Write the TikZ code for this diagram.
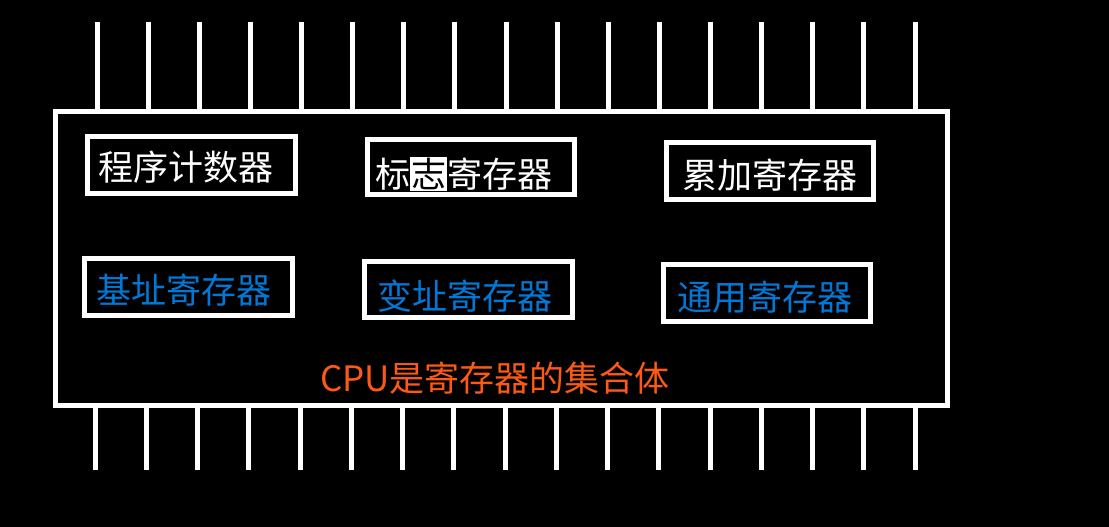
\documentclass[tikz,border=0pt]{standalone}
\usepackage{fontspec}
\usepackage{xcolor}
\newfontfamily\cjk{Noto Sans CJK SC}
\definecolor{regblue}{RGB}{0,120,215}
\definecolor{cpuorange}{RGB}{252,90,20}
\begin{document}
\begin{tikzpicture}[x=1pt,y=-1pt,
  regbox/.style={draw=white,line width=5pt,minimum width=#1,minimum height=57pt,inner sep=0pt,outer sep=0pt},
  regbox/.default=208pt,
  regtext/.style={inner sep=0pt,font=\cjk\fontsize{35}{40}\selectfont,text=white},
  bluetext/.style={regtext,text=regblue},
  pin/.style={draw=white,line width=5pt}]
\fill[black] (0,0) rectangle (1109,527);
\useasboundingbox (0,0) rectangle (1109,527);
% pins
\foreach \i in {0,...,16}{
  \draw[pin] ({97+51.125*\i},22) -- ({97+51.125*\i},111);
  \draw[pin] ({95+51.25*\i},405.5) -- ({95+51.25*\i},470);
}
% chip body
\node[draw=white,line width=5pt,minimum width=892pt,minimum height=294.5pt,inner sep=0pt] (chip) at (501.5,258.25) {};
% register boxes
\node[regbox] (b1) at (191.5,165) {};
\node[regtext] (t1) at (186,167) {程序计数器};
\node[regbox=207pt,minimum height=55pt] (b2) at (471,167) {};
\node[regtext] (t2) at (463.5,174) {标{\setlength\fboxsep{1pt}\colorbox{white}{\textcolor{black}{志}}}寄存器};
\node[regbox=207pt] (b3) at (770,171) {};
\node[regtext] (t3) at (770,175) {累加寄存器};
\node[regbox] (b4) at (188.5,287) {};
\node[bluetext] (t4) at (183.5,290) {基址寄存器};
\node[regbox,minimum height=56pt] (b5) at (468.5,289.5) {};
\node[bluetext] (t5) at (465,296) {变址寄存器};
\node[regbox=207pt] (b6) at (767,293) {};
\node[bluetext] (t6) at (764.5,297) {通用寄存器};
\node[regtext,text=cpuorange] (cpu) at (495,378) {CPU是寄存器的集合体};
\end{tikzpicture}
\end{document}
